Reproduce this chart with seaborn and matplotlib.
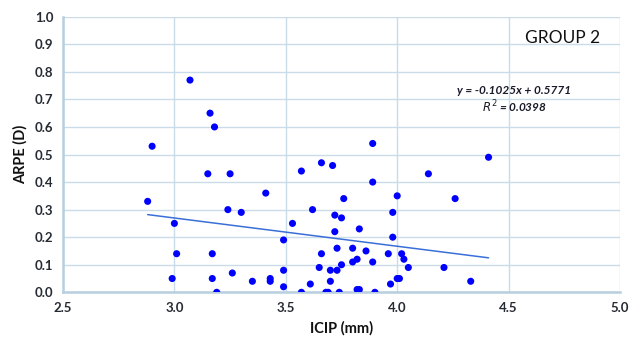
import numpy as np
import pandas as pd
import matplotlib
matplotlib.use("Agg")
import matplotlib.pyplot as plt
import seaborn as sns

icip = [2.88, 2.90, 2.99, 3.00, 3.01, 3.07, 3.15, 3.16, 3.17, 3.17,
        3.18, 3.19, 3.24, 3.25, 3.26, 3.30, 3.35, 3.41, 3.43, 3.43,
        3.49, 3.49, 3.49, 3.53, 3.57, 3.57, 3.61, 3.62, 3.65, 3.66,
        3.66, 3.68, 3.69, 3.70, 3.70, 3.71, 3.72, 3.72, 3.73, 3.73,
        3.74, 3.75, 3.75, 3.76, 3.80, 3.80, 3.82, 3.82, 3.83, 3.83,
        3.86, 3.89, 3.89, 3.89, 3.90, 3.96, 3.97, 3.98, 3.98, 4.00,
        4.00, 4.01, 4.02, 4.03, 4.05, 4.14, 4.21, 4.26, 4.33, 4.41]
arpe = [0.33, 0.53, 0.05, 0.25, 0.14, 0.77, 0.43, 0.65, 0.14, 0.05,
        0.60, 0.00, 0.30, 0.43, 0.07, 0.29, 0.04, 0.36, 0.05, 0.04,
        0.08, 0.19, 0.02, 0.25, 0.00, 0.44, 0.03, 0.30, 0.09, 0.14,
        0.47, 0.00, 0.00, 0.08, 0.04, 0.46, 0.28, 0.22, 0.16, 0.08,
        0.00, 0.27, 0.10, 0.34, 0.16, 0.11, 0.12, 0.01, 0.01, 0.23,
        0.15, 0.54, 0.40, 0.11, 0.00, 0.14, 0.03, 0.29, 0.20, 0.35,
        0.05, 0.05, 0.14, 0.12, 0.09, 0.43, 0.09, 0.34, 0.04, 0.49]
slope = -0.1025
intercept = 0.5771
r2 = 0.0398
x_ticks = [2.5, 3.0, 3.5, 4.0, 4.5, 5.0]
y_ticks = [0.0, 0.1, 0.2, 0.3, 0.4, 0.5, 0.6, 0.7, 0.8, 0.9, 1.0]

df = pd.DataFrame({"ICIP": icip, "ARPE": arpe})

sns.set_theme(style="white")
plt.rcParams["font.family"] = ["Lato", "DejaVu Sans"]

fig = plt.figure(figsize=(6.31, 3.39), dpi=100)
ax = fig.add_axes([63 / 631, 1 - 292.3 / 339, (620 - 63) / 631, (292.3 - 16.7) / 339])

grid_c = "#c9dce8"
for xv in x_ticks:
    ax.axvline(xv, color=grid_c, lw=1.0, zorder=0)
for yv in y_ticks:
    ax.axhline(yv, color=grid_c, lw=1.0, zorder=0)

sns.scatterplot(data=df, x="ICIP", y="ARPE", ax=ax, color="#0000ff",
                s=26, edgecolor="none", zorder=3)

xs = np.array([min(icip), max(icip)])
ax.plot(xs, slope * xs + intercept, color="#3a6fd8", lw=1.1, zorder=2)

ax.set_xlim(2.5, 5.0)
ax.set_ylim(0.0, 1.0)
ax.set_xticks(x_ticks)
ax.set_yticks(y_ticks)
ax.set_xticklabels([f"{v:.1f}" for v in x_ticks])
ax.set_yticklabels([f"{v:.1f}" for v in y_ticks])
ax.tick_params(axis="both", length=0, labelsize=9.5, colors="#262a33", pad=7)
for lab in ax.get_xticklabels() + ax.get_yticklabels():
    lab.set_fontweight("bold")

for side in ["top", "right"]:
    ax.spines[side].set_visible(False)
for side in ["left", "bottom"]:
    ax.spines[side].set_color("#b7cfdf")
    ax.spines[side].set_linewidth(1.8)

ax.set_xlabel("ICIP (mm)", fontsize=10.5, fontweight="bold", color="#111111", labelpad=5)
ax.set_ylabel("ARPE (D)", fontsize=10.5, fontweight="bold", color="#111111", labelpad=5)

ax.text(0.964, 0.922, "GROUP 2", transform=ax.transAxes, ha="right", va="center",
        fontsize=12.5, color="#111111")
ax.text(0.81, 0.732, f"y = {slope:.4f}x + {intercept:.4f}", transform=ax.transAxes,
        ha="center", va="center", fontsize=8.5, style="italic", fontweight="bold",
        color="#1a1a2a")
ax.text(0.81, 0.672, f"$R^2$ = {r2:.4f}", transform=ax.transAxes,
        ha="center", va="center", fontsize=8.5, style="italic", fontweight="bold",
        color="#1a1a2a")

fig.savefig("out.png", dpi=100)
